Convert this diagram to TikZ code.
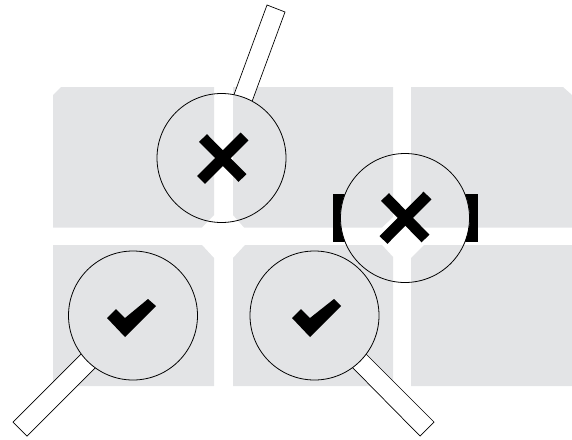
\documentclass[tikz,border=0pt]{standalone}
\usepackage{xcolor}
\usepackage{tikz}
\definecolor{panel}{RGB}{227,228,230}
\tikzset{
  panelfill/.style={fill=panel},
  lens/.style={draw=black, line width=0.8pt},
  handle/.style={draw=black, fill=white, line width=0.7pt},
  markbar/.style={draw=black, line width=11pt},
  checkmark/.style={fill=black},
}
\newcommand{\panelset}{
\fill[panelfill] (53,95) -- (61,87) -- (214,87) -- (214,215) -- (202,227.5) -- (53,227.5) -- cycle;
\fill[panelfill] (233,87) -- (393,87) -- (393,217) -- (382,227.5) -- (244,227.5) -- (233,215) -- cycle;
\fill[panelfill] (411,87) -- (563,87) -- (572,95) -- (572,227.5) -- (423,227.5) -- (411,216) -- cycle;
\fill[panelfill] (53,245) -- (202,245) -- (214,258) -- (214,386) -- (53,386) -- cycle;
\fill[panelfill] (245,245) -- (382,245) -- (393,257) -- (393,386) -- (233,386) -- (233,258) -- cycle;
\fill[panelfill] (424,245) -- (572,245) -- (572,386) -- (411,386) -- (411,258) -- cycle;
}
\begin{document}
\begin{tikzpicture}[x=1pt, y=-1pt]
\useasboundingbox (0,0) rectangle (572,439);

%Panels
\panelset

%Brackets
\fill[black] (333,193.5) rectangle (365,242);
\fill[black] (445,193.5) rectangle (478,242);

%Handles
\draw[handle] (232,100) -- (267,5) -- (285,12) -- (250,107) -- cycle;
\draw[handle] (84,351) -- (13,422) -- (27,436) -- (98,365) -- cycle;
\draw[handle] (363,351) -- (434,422) -- (420,436) -- (349,364) -- cycle;

% Points
\coordinate (topc) at (221.5,158);
\coordinate (midc) at (405,218);
\coordinate (leftc) at (133,315.5);
\coordinate (rightc) at (314.5,315.5);

%Lenses
\foreach \c in {topc,midc,leftc,rightc}{
  \begin{scope}
    \clip (\c) circle (64.5);
    \fill[white] (\c) circle (64.5);
    \panelset
  \end{scope}
  \draw[lens] (\c) circle (64.5);
}

%Crosses
\draw[markbar] (203,138) -- (242.5,178);
\draw[markbar] (244.5,136.5) -- (201,180);
\draw[markbar] (385,197) -- (425.5,238.5);
\draw[markbar] (427.5,195.5) -- (383.5,240);

%Checks
\fill[checkmark] (107,318) -- (116,309) -- (125,318) -- (148,299) -- (156,306) -- (125,337) -- cycle;
\fill[checkmark] (292,318) -- (301,309) -- (310,318) -- (334,299) -- (341,306) -- (310,337) -- cycle;
\end{tikzpicture}
\end{document}
